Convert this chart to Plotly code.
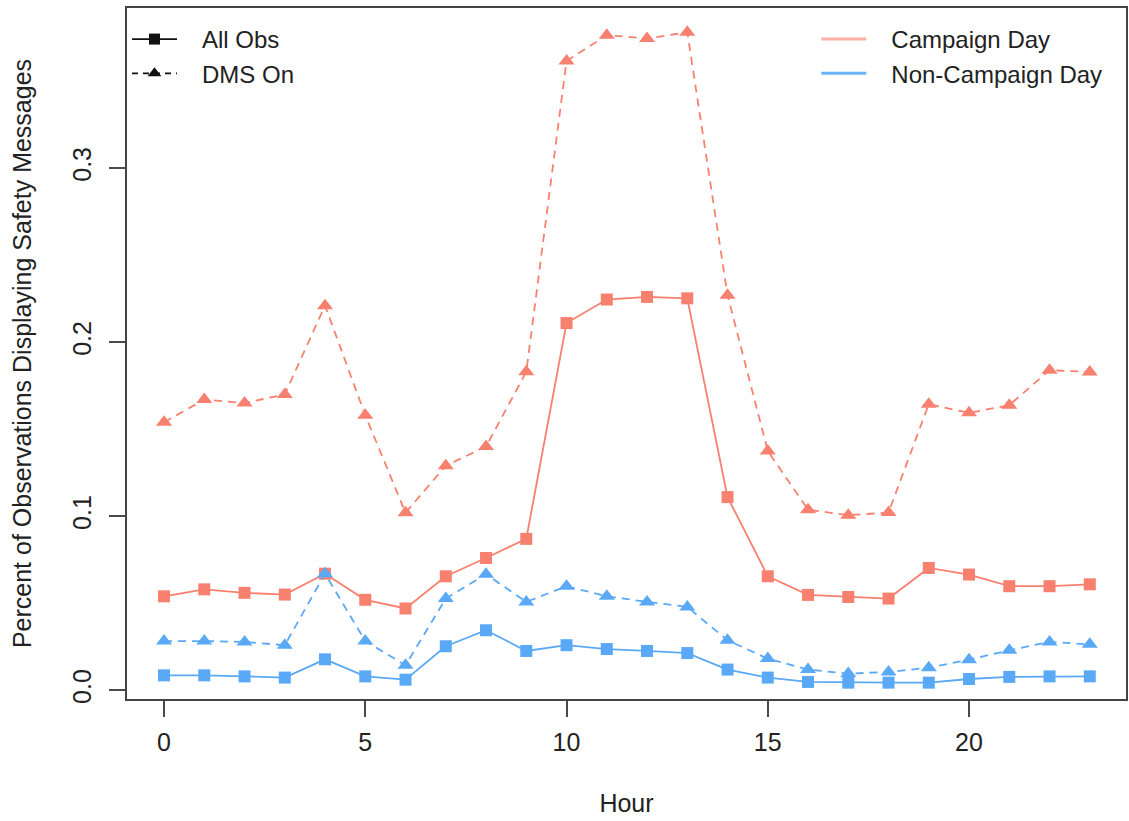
import plotly.graph_objects as go

# Hour of day
hours = list(range(24))

# Share of observations displaying safety messages, by hour
campaign_all = [0.054, 0.058, 0.056, 0.055, 0.067, 0.052, 0.047, 0.0655, 0.076, 0.087,
                0.211, 0.2245, 0.226, 0.2252, 0.111, 0.0655, 0.0548, 0.0536, 0.0527, 0.0703,
                0.0665, 0.0598, 0.0598, 0.0609]
campaign_dms = [0.154, 0.167, 0.165, 0.170, 0.221, 0.158, 0.102, 0.129, 0.140, 0.183,
                0.3615, 0.3764, 0.3745, 0.378, 0.227, 0.1375, 0.1038, 0.1006, 0.1021, 0.1644,
                0.1594, 0.1638, 0.1839, 0.1829]
noncampaign_all = [0.0086, 0.0086, 0.008, 0.0073, 0.0178, 0.008, 0.0061, 0.0253, 0.0345, 0.0226,
                   0.0259, 0.0237, 0.0226, 0.0214, 0.0119, 0.0073, 0.0048, 0.0044, 0.0044, 0.0044,
                   0.0065, 0.0077, 0.008, 0.008]
noncampaign_dms = [0.0283, 0.0283, 0.0278, 0.0259, 0.067, 0.0283, 0.0144, 0.0527, 0.0667, 0.0508,
                   0.0598, 0.054, 0.0508, 0.0479, 0.0287, 0.0182, 0.0119, 0.0096, 0.0105, 0.013,
                   0.0176, 0.023, 0.0278, 0.0264]

y_ticks = [0.0, 0.1, 0.2, 0.3]
y_tick_labels = ["0.0", "0.1", "0.2", "0.3"]
x_ticks = [0, 5, 10, 15, 20]

RED = "#F8806F"
BLUE = "#5AA9F6"
FONT = "Liberation Sans, Arial, sans-serif"
DASH = "8px,6px"
GAP = "\u00a0\u00a0\u00a0"  # spacing between legend glyph and label

fig = go.Figure()

series = [
    (campaign_dms, RED, DASH, "triangle-up", 14),
    (campaign_all, RED, "solid", "square", 12),
    (noncampaign_dms, BLUE, DASH, "triangle-up", 14),
    (noncampaign_all, BLUE, "solid", "square", 12),
]
for vals, color, dash, symbol, size in series:
    fig.add_trace(go.Scatter(
        x=hours, y=vals, mode="lines+markers",
        line=dict(color=color, width=1.8, dash=dash),
        marker=dict(symbol=symbol, size=size, color=color, line=dict(width=0)),
        showlegend=False, hoverinfo="x+y",
    ))

# Legend: observation type (left)
fig.add_trace(go.Scatter(
    x=[None], y=[None], mode="lines+markers", name=GAP + "All Obs",
    line=dict(color="#111111", width=1.8),
    marker=dict(symbol="square", size=11, color="#111111"),
    legend="legend",
))
fig.add_trace(go.Scatter(
    x=[None], y=[None], mode="lines+markers", name=GAP + "DMS On",
    line=dict(color="#111111", width=1.8, dash="6px,5px"),
    marker=dict(symbol="triangle-up", size=12, color="#111111"),
    legend="legend",
))
# Legend: day type (right)
fig.add_trace(go.Scatter(
    x=[None], y=[None], mode="lines", name=GAP + "Campaign Day",
    line=dict(color="#FDB1A6", width=3), legend="legend2",
))
fig.add_trace(go.Scatter(
    x=[None], y=[None], mode="lines", name=GAP + "Non-Campaign Day",
    line=dict(color="#6AB2FA", width=3), legend="legend2",
))

TEXT_SIZE = 25

axis_common = dict(
    showgrid=False, zeroline=False,
    showline=True, mirror=True, linecolor="#444444", linewidth=1.6,
    ticks="outside", ticklen=16, tickwidth=1.5, tickcolor="#4a4a4a",
    tickfont=dict(family=FONT, size=TEXT_SIZE, color="#222222"),
)

legend_common = dict(
    xanchor="left", yanchor="top",
    bgcolor="rgba(0,0,0,0)", borderwidth=0,
    font=dict(family=FONT, size=24, color="#222222"),
    itemwidth=45, tracegroupgap=0,
)

fig.update_layout(
    width=1129, height=821,
    margin=dict(l=127, r=1, t=8, b=122),
    paper_bgcolor="white", plot_bgcolor="white",
    font=dict(family=FONT, size=TEXT_SIZE, color="#222222"),
    xaxis=dict(
        range=[-0.92, 23.9], tickvals=x_ticks,
        title=dict(text="Hour", standoff=40, font=dict(family=FONT, size=TEXT_SIZE, color="#222222")),
        ticklabelstandoff=4,
        **axis_common,
    ),
    yaxis=dict(
        range=[-0.005, 0.392], tickvals=y_ticks, ticktext=y_tick_labels, tickangle=-90,
        title=dict(text="Percent of Observations Displaying Safety Messages", standoff=29,
                   font=dict(family=FONT, size=TEXT_SIZE, color="#222222")),
        ticklabelstandoff=8,
        **axis_common,
    ),
    legend=dict(x=0.0, y=0.987, **legend_common),
    legend2=dict(x=0.69, y=0.987, **legend_common),
)

fig.write_html("out.html")
